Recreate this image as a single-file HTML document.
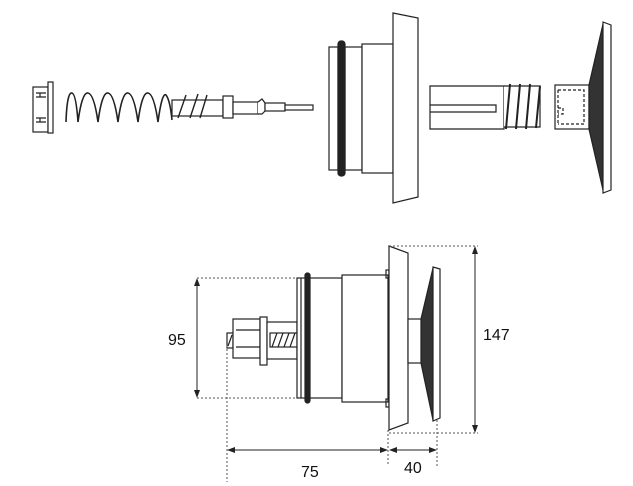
<!DOCTYPE html>
<html><head><meta charset="utf-8"><style>
html,body{margin:0;padding:0;background:#fff;}
svg{display:block;}
text{font-family:"Liberation Sans",Arial,sans-serif;font-size:16px;fill:#111;}
</style></head><body>
<svg width="633" height="486" viewBox="0 0 633 486" xmlns="http://www.w3.org/2000/svg">
<g fill="none" stroke="#222" stroke-width="1.2">
<rect x="33" y="87" width="15" height="45" fill="#fff"/>
<rect x="48" y="82" width="5" height="51" fill="#fff"/>
<path d="M36 93h10M36 97h10M36 118h10M36 122h10M40 93v4M40 118v4"/>
<path d="M66 122 Q67 92 72 93 Q76 94 78 122 Q82 92 88 93 Q94 94 98 122 Q102 92 108 93 Q114 94 118 122 Q122 92 128 93 Q134 94 138 122 Q142 92 148 93 Q154 94 158 122 Q162 92 166 95 Q170 100 172 120" stroke-width="1.6"/>
<rect x="172" y="100" width="51" height="16" fill="#fff"/>
<path d="M178 118 L186 95 M190 118 L198 94 M200 118 L207 95" stroke-width="1.4"/>
<rect x="223" y="96" width="10" height="22" fill="#fff"/>
<rect x="233" y="102" width="25" height="12" fill="#fff"/>
<path d="M258 102 L262 99 L265 103 L265 111 L262 114 L258 114" fill="#fff"/>
<rect x="265" y="103" width="20" height="8" fill="#fff"/>
<rect x="285" y="105" width="28" height="5" fill="#fff"/>
<rect x="329" y="47" width="9" height="123" fill="#fff"/>
<rect x="345" y="47" width="17" height="123" fill="#fff"/>
<rect x="362" y="44" width="31" height="129" fill="#fff"/>
<rect x="338" y="41" width="7" height="135" rx="3" fill="#222"/>
<path d="M393 13 L418 18 L418 197 L393 203 Z" fill="#fff"/>
<path d="M430 86 L504 86 L504 129 L430 129 Z" fill="#fff"/>
<path d="M430 105 L496 105 L496 112 L430 112"/>
<path d="M504 86 L540 86 L540 127 L504 127" fill="#fff"/>
<path d="M506 129 L510 84 M516 129 L520 84 M526 129 L530 84 M536 128 L540 86" stroke-width="2"/>
<rect x="555" y="85" width="34" height="44" fill="#fff"/>
<path d="M558 90h26v34h-26M558 90v34M558 108h5v6h-5" stroke-dasharray="3,2"/>
<path d="M589 85 L603 24 L603 190 L589 129 Z" fill="#333"/>
<path d="M603 22 L611 25 L611 190 L603 193 Z" fill="#fff"/>

<rect x="227" y="333" width="6" height="15" fill="#fff"/>
<path d="M228 346 L232 335" />
<rect x="233" y="319" width="27" height="39" fill="#fff"/>
<path d="M236 330h24M236 347h24"/>
<rect x="260" y="317" width="7" height="48" fill="#fff"/>
<rect x="267" y="322" width="30" height="37" fill="#fff"/>
<rect x="270" y="333" width="27" height="14" fill="#fff"/>
<path d="M272 347 L277 333 M278 347 L283 333 M284 347 L289 333 M290 347 L295 333"/>
<rect x="297" y="278" width="45" height="120" fill="#fff"/>
<rect x="342" y="275" width="46" height="127" fill="#fff"/>
<path d="M301 278v120"/>
<rect x="305" y="273" width="5" height="130" rx="2.5" fill="#222"/>
<rect x="386" y="270" width="3" height="8"/><rect x="386" y="399" width="3" height="8"/>
<path d="M389 246 L408 253 L408 423 L389 430 Z" fill="#fff"/>
<rect x="408" y="319" width="14" height="44" fill="#fff"/>
<path d="M421 319 L433 268 L433 420 L421 363 Z" fill="#333"/>
<path d="M433 267 L440 269 L440 418 L433 421 Z" fill="#fff"/>
</g>
<g stroke="#555" stroke-width="1" stroke-dasharray="2,2" fill="none">
<path d="M197 278H297M197 398H297M389 246H478M389 433H478M227 345V482M388 430V466M437 420V466"/>
</g>
<g stroke="#222" stroke-width="1" fill="none">
<path d="M197 282V394M475 250V429M231 450H384M393 450H433"/>
</g>
<g fill="#222">
<path d="M197 278l-3 8h6z M197 398l-3 -8h6z M475 246l-3 8h6z M475 433l-3 -8h6z M227 450l8 -3v6z M388 450l-8 -3v6z M389 450l8 -3v6z M437 450l-8 -3v6z"/>
</g>
<text x="168" y="345">95</text>
<text x="483" y="340">147</text>
<text x="301" y="477">75</text>
<text x="404" y="473">40</text>
</svg>
</body></html>
